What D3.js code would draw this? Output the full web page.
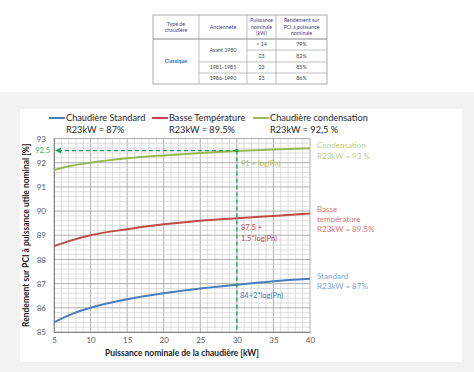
<!DOCTYPE html>
<html>
<head>
<meta charset="utf-8">
<script src="https://cdn.jsdelivr.net/npm/d3@7"></script>
<style>
  body { margin: 0; background: #fff; }
  svg { display: block; font-family: Lato, "Open Sans", sans-serif; }
</style>
</head>
<body>
<script>
// puissance (kW) and rendement (%)
var puissance = [5, 7.5, 10, 15, 20, 25, 30, 35, 40];
var standard = [85.4, 85.75, 86.0, 86.35, 86.6, 86.8, 86.95, 87.1, 87.2];
var basseTemp = [88.55, 88.8, 89.0, 89.25, 89.45, 89.6, 89.7, 89.8, 89.9];
var condensation = [91.7, 91.88, 92.0, 92.18, 92.3, 92.4, 92.48, 92.55, 92.6];
var xTicks = [5, 10, 15, 20, 25, 30, 35, 40];
var yTicks = [85, 86, 87, 88, 89, 90, 91, 92, 93];
var refPn = 30, refR = 92.5;

var tableHead = [["Type de", "chaudière"], ["Ancienneté"], ["Puissance", "nominale", "(kW)"], ["Rendement sur", "PCI à puissance", "nominale"]];
var tableRows = [["Avant 1980", "< 14", "79%"], ["", "23", "82%"], ["1981-1985", "23", "85%"], ["1986-1990", "23", "86%"]];

var seriesDefs = [
  {name: "Chaudière Standard", r: "R23kW = 87%", values: standard, color: "#4a7ebb", light: "#7fa3cf", lx: 49},
  {name: "Basse Température", r: "R23kW = 89.5%", values: basseTemp, color: "#be4b48", light: "#d07a77", lx: 152},
  {name: "Chaudière condensation", r: "R23kW = 92,5 %", values: condensation, color: "#98b954", light: "#b9cf8a", lx: 253}
];

var svg = d3.select("body").append("svg").attr("width", 474).attr("height", 372);

// backgrounds
svg.append("rect").attr("x", 0).attr("y", 92).attr("width", 474).attr("height", 280).attr("fill", "#f2f2f2");
svg.append("rect").attr("x", 20).attr("y", 109).attr("width", 442).attr("height", 253).attr("fill", "#fff");

// table at top
var tb = svg.append("g").attr("font-size", 5.3);
var colX = [153, 199, 247, 276, 327];
var rowY = [15, 39, 50, 62, 73, 84];
tb.append("rect").attr("x", 153).attr("y", 15).attr("width", 174).attr("height", 69)
  .attr("fill", "none").attr("stroke", "#999").attr("stroke-width", 0.8);
tb.append("line").attr("x1", 153).attr("x2", 327).attr("y1", 39).attr("y2", 39).attr("stroke", "#888").attr("stroke-width", 1.2);
colX.slice(1, 4).forEach(function(cx) {
  tb.append("line").attr("x1", cx).attr("x2", cx).attr("y1", 15).attr("y2", 84).attr("stroke", "#999").attr("stroke-width", 0.6);
});
tb.append("line").attr("x1", 247).attr("x2", 327).attr("y1", 50).attr("y2", 50).attr("stroke", "#999").attr("stroke-width", 0.6);
[62, 73].forEach(function(ry) {
  tb.append("line").attr("x1", 199).attr("x2", 327).attr("y1", ry).attr("y2", ry).attr("stroke", "#999").attr("stroke-width", 0.6);
});
tableHead.forEach(function(lines, i) {
  var cx = (colX[i] + colX[i + 1]) / 2;
  var y0 = 27 - (lines.length - 1) * 3.3;
  lines.forEach(function(t, j) {
    tb.append("text").attr("x", cx).attr("y", y0 + j * 6.6).attr("dy", "0.35em")
      .attr("text-anchor", "middle").attr("fill", "#4a3f7a").text(t);
  });
});
tb.append("text").attr("x", 176).attr("y", 61.5).attr("dy", "0.35em").attr("text-anchor", "middle")
  .attr("fill", "#2e74b5").attr("font-weight", "bold").text("Classique");
tableRows.forEach(function(row, i) {
  var cy = (rowY[i + 1] + rowY[i + 2]) / 2;
  if (row[0]) {
    var cyA = i === 0 ? 50.5 : cy;
    tb.append("text").attr("x", 223).attr("y", cyA).attr("dy", "0.35em").attr("text-anchor", "middle").attr("fill", "#444").text(row[0]);
  }
  tb.append("text").attr("x", 261.5).attr("y", cy).attr("dy", "0.35em").attr("text-anchor", "middle").attr("fill", "#444").text(row[1]);
  tb.append("text").attr("x", 301.5).attr("y", cy).attr("dy", "0.35em").attr("text-anchor", "middle").attr("fill", "#444").text(row[2]);
});

// chart
var x = d3.scaleLinear().domain([5, 40]).range([54, 310]);
var y = d3.scaleLinear().domain([85, 93]).range([332, 138.5]);

var grid = svg.append("g");
d3.range(5, 40.01, 1).forEach(function(v) {
  var major = v % 5 === 0;
  grid.append("line").attr("x1", x(v)).attr("x2", x(v)).attr("y1", y(85)).attr("y2", y(93))
    .attr("stroke", major ? "#a6a6a6" : "#d0d0d0").attr("stroke-width", major ? 0.9 : 0.7);
});
d3.range(85, 93.001, 0.2).forEach(function(v) {
  var major = Math.abs(v - Math.round(v)) < 1e-6;
  grid.append("line").attr("x1", x(5)).attr("x2", x(40)).attr("y1", y(v)).attr("y2", y(v))
    .attr("stroke", major ? "#a6a6a6" : "#d0d0d0").attr("stroke-width", major ? 0.9 : 0.7);
});

var xAxis = svg.append("g").attr("transform", "translate(0," + y(85) + ")")
  .call(d3.axisBottom(x).tickValues(xTicks).tickSize(0).tickPadding(5));
var yAxis = svg.append("g").attr("transform", "translate(" + x(5) + ",0)")
  .call(d3.axisLeft(y).tickValues(yTicks).tickSize(0).tickPadding(8));
[xAxis, yAxis].forEach(function(a) {
  a.select(".domain").attr("stroke", "#868686");
  a.selectAll("text").attr("font-size", 8).attr("fill", "#595959").attr("font-family", "Lato, sans-serif");
});

var line = d3.line().x(function(d) { return x(d[0]); }).y(function(d) { return y(d[1]); }).curve(d3.curveMonotoneX);
seriesDefs.forEach(function(s) {
  svg.append("path").datum(puissance.map(function(p, i) { return [p, s.values[i]]; }))
    .attr("d", line).attr("fill", "none").attr("stroke", s.color).attr("stroke-width", 2);
});

// reference dashed lines
var green = "#20a050";
svg.append("line").attr("x1", x(5) + 4).attr("x2", x(refPn)).attr("y1", y(refR)).attr("y2", y(refR))
  .attr("stroke", green).attr("stroke-width", 1.3).attr("stroke-dasharray", "4,3");
svg.append("line").attr("x1", x(refPn)).attr("x2", x(refPn)).attr("y1", y(refR)).attr("y2", y(85))
  .attr("stroke", green).attr("stroke-width", 1.3).attr("stroke-dasharray", "4,3");
svg.append("path").attr("d", "M" + (x(5) + 1) + "," + y(refR) + "l6,-3l0,6z").attr("fill", green);
svg.append("circle").attr("cx", x(refPn)).attr("cy", y(refR)).attr("r", 1.8).attr("fill", green);
svg.append("text").attr("x", 50).attr("y", y(refR)).attr("dy", "0.35em").attr("text-anchor", "end")
  .attr("font-size", 7.5).attr("fill", "#3cb371").text("92.5");

// formulas inside the plot
var ann = svg.append("g").attr("font-size", 7.5);
ann.append("text").attr("x", 241).attr("y", 163).attr("dy", "0.35em").attr("fill", "#a8bf6c").text("91 + log(Pn)");
ann.append("text").attr("x", 241).attr("y", 227).attr("dy", "0.35em").attr("fill", "#c0504d").text("87.5 +");
ann.append("text").attr("x", 241).attr("y", 238).attr("dy", "0.35em").attr("fill", "#c0504d").text("1.5*log(Pn)");
ann.append("text").attr("x", 240).attr("y", 295).attr("dy", "0.35em").attr("fill", "#4a7ebb").text("84+2*log(Pn)");

// right labels
var rl = svg.append("g").attr("font-size", 8);
[["Condensation", 145, 2], ["R23kW = 93 %", 156, 2],
 ["Basse", 209, 1], ["température", 219, 1], ["R23kW = 89.5%", 229.5, 1],
 ["Standard", 276, 0], ["R23kW = 87%", 286.5, 0]].forEach(function(d) {
  rl.append("text").attr("x", 317).attr("y", d[1]).attr("dy", "0.35em").attr("fill", seriesDefs[d[2]].light).text(d[0]);
});

// legend
var lg = svg.append("g").attr("font-size", 9.2).attr("fill", "#262626");
seriesDefs.forEach(function(s) {
  lg.append("line").attr("x1", s.lx).attr("x2", s.lx + 16).attr("y1", 118).attr("y2", 118)
    .attr("stroke", s.color).attr("stroke-width", 2);
  lg.append("text").attr("x", s.lx + 17).attr("y", 118).attr("dy", "0.35em").text(s.name);
  lg.append("text").attr("x", s.lx + 17).attr("y", 130).attr("dy", "0.35em").text(s.r);
});

// axis titles
svg.append("text").attr("x", x(22.5)).attr("y", 353).attr("dy", "0.35em").attr("text-anchor", "middle")
  .attr("font-size", 8.5).attr("font-weight", "bold").attr("fill", "#1a1a1a")
  .text("Puissance nominale de la chaudière [kW]");
svg.append("text").attr("transform", "translate(29," + y(89) + ") rotate(-90)").attr("text-anchor", "middle")
  .attr("font-size", 8.5).attr("font-weight", "bold").attr("fill", "#1a1a1a")
  .text("Rendement sur PCI à puissance utile nominal [%]");
</script>
</body>
</html>
